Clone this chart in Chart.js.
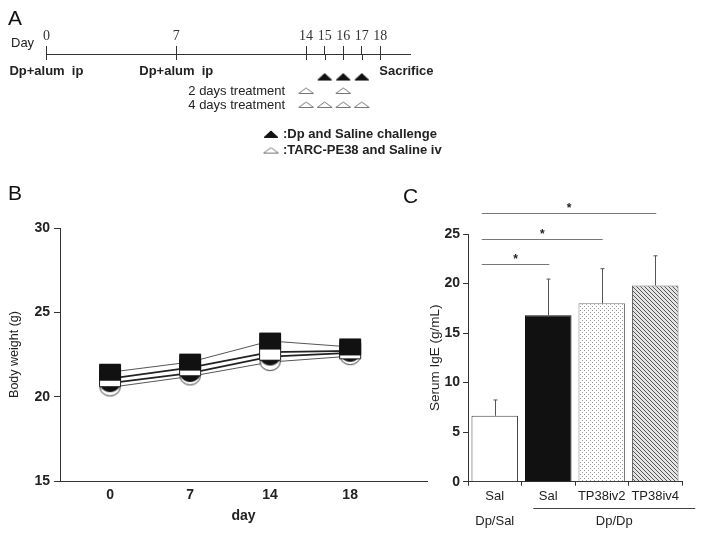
<!DOCTYPE html>
<html>
<head>
<meta charset="utf-8">
<script src="https://cdn.jsdelivr.net/npm/chart.js@4"></script>
<style>
  body { margin: 0; background: #fff; }
  #wrap { position: relative; width: 704px; height: 535px; overflow: hidden; background: #fff; }
  canvas { position: absolute; }
</style>
</head>
<body>
<div id="wrap">
  <canvas id="chartA" width="460" height="170" style="left:0;top:0"></canvas>
  <canvas id="chartB" width="440" height="365" style="left:0;top:170px"></canvas>
  <canvas id="chartC" width="324" height="365" style="left:380px;top:170px"></canvas>
</div>
<script>
//----- Panel A: timeline -----
const timelineDays = [0, 7, 14, 15, 16, 17, 18];
const challengeDays = [15, 16, 17];
const twoDayDays = [14, 16];
const fourDayDays = [14, 15, 16, 17];

//----- Panel B: body weight -----
const weightDays = ["0", "7", "14", "18"];
const wtFilledSquare = [21.45, 22.05, 23.3, 22.95];
const wtOpenSquare = [21.07, 21.72, 22.64, 22.72];
const wtFilledCircle = [20.8, 21.4, 22.38, 22.6];
const wtOpenCircle = [20.55, 21.2, 22.05, 22.4];
const weightTicks = [15, 20, 25, 30];

//----- Panel C: serum IgE -----
const igeGroups = ["Sal", "Sal", "TP38iv2", "TP38iv4"];
const igeMeans = [6.65, 16.8, 18.0, 19.8];
const igeErrors = [1.6, 3.65, 3.5, 3.0];
const igeTicks = [0, 5, 10, 15, 20, 25];
const sigPairs = [[0, 1], [0, 2], [0, 3]];
const sigLevels = [22, 24.45, 27.1];
const treatLabels = ["Dp/Sal", "Dp/Dp"];

Chart.defaults.font.family = '"Liberation Sans", Arial, sans-serif';
Chart.defaults.color = "#222";
Chart.defaults.animation = false;
Chart.defaults.plugins.legend.display = false;
Chart.defaults.plugins.tooltip.enabled = false;

// small canvas used as point style
function makeMarker(shape, fill, w, h, stroke) {
  const c = document.createElement("canvas");
  c.width = w + 2;
  c.height = h + 2;
  const g = c.getContext("2d");
  g.beginPath();
  if (shape === "rect") {
    g.rect(1.5, 1.5, w - 1, h - 1);
  } else if (shape === "ellipse") {
    g.ellipse((w + 2) / 2, (h + 2) / 2, w / 2 - 0.5, h / 2 - 0.5, 0, 0, Math.PI * 2);
  } else {
    g.moveTo(1, h + 0.5);
    g.lineTo(w + 1, h + 0.5);
    g.lineTo((w + 2) / 2, 1);
    g.closePath();
  }
  g.fillStyle = fill;
  g.fill();
  g.strokeStyle = stroke;
  g.lineWidth = 1;
  g.stroke();
  return c;
}

function dotPattern() {
  const c = document.createElement("canvas");
  c.width = 4;
  c.height = 4;
  const g = c.getContext("2d");
  g.fillStyle = "#fff";
  g.fillRect(0, 0, 4, 4);
  g.fillStyle = "#9a9a9a";
  g.fillRect(0, 0, 1, 1);
  g.fillRect(2, 2, 1, 1);
  return g.createPattern(c, "repeat");
}

function hatchPattern() {
  const c = document.createElement("canvas");
  c.width = 4;
  c.height = 4;
  const g = c.getContext("2d");
  g.fillStyle = "#e4e4e4";
  g.fillRect(0, 0, 4, 4);
  g.fillStyle = "#555";
  for (let i = 0; i < 4; i++) g.fillRect(i, i, 1, 1);
  return g.createPattern(c, "repeat");
}

function panelLetter(ctx, text, x, y) {
  ctx.font = '21px "Liberation Sans", Arial, sans-serif';
  ctx.fillStyle = "#111";
  ctx.textAlign = "left";
  ctx.textBaseline = "alphabetic";
  ctx.fillText(text, x, y);
}

//----- Chart A -----
const triFilled = makeMarker("tri", "#111", 14, 7, "#111");
const triOpen = makeMarker("tri", "#fff", 15, 6, "#777");

function rowPoints(days, row) {
  return days.map((d) => ({ x: d, y: row }));
}

const timelinePlugin = {
  id: "timeline",
  afterDraw(chart) {
    const { ctx } = chart;
    const { x, y } = chart.scales;
    ctx.save();
    panelLetter(ctx, "A", 8, 25);

    // lower half of the day ticks
    ctx.strokeStyle = "#333";
    ctx.lineWidth = 1;
    timelineDays.forEach((d) => {
      const px = Math.round(x.getPixelForValue(d)) + 0.5;
      ctx.beginPath();
      ctx.moveTo(px, chart.chartArea.top);
      ctx.lineTo(px, chart.chartArea.top + 6);
      ctx.stroke();
    });

    ctx.fillStyle = "#222";
    ctx.textBaseline = "middle";
    ctx.font = '13px "Liberation Sans", Arial, sans-serif';
    ctx.textAlign = "left";
    ctx.fillText("Day", 11, 43);

    ctx.textAlign = "right";
    ctx.fillText("2 days treatment", x.getPixelForValue(14) - 21, y.getPixelForValue(2));
    ctx.fillText("4 days treatment", x.getPixelForValue(14) - 21, y.getPixelForValue(3));

    ctx.font = 'bold 13px "Liberation Sans", Arial, sans-serif';
    ctx.textAlign = "center";
    ctx.fillText("Dp+alum  ip", x.getPixelForValue(0), y.getPixelForValue(0.58));
    ctx.fillText("Dp+alum  ip", x.getPixelForValue(7), y.getPixelForValue(0.58));
    ctx.textAlign = "left";
    ctx.fillText("Sacrifice", x.getPixelForValue(18) - 1, y.getPixelForValue(0.58));

    // legend
    const lx = 271;
    const ly1 = y.getPixelForValue(5.11);
    const ly2 = y.getPixelForValue(6.27);
    ctx.drawImage(triFilled, lx - triFilled.width / 2, ly1 - triFilled.height / 2);
    ctx.drawImage(triOpen, lx - triOpen.width / 2, ly2 - triOpen.height / 2);
    ctx.fillText(":Dp and Saline challenge", lx + 12, ly1);
    ctx.fillText(":TARC-PE38 and Saline iv", lx + 12, ly2);
    ctx.restore();
  },
};

new Chart(document.getElementById("chartA"), {
  type: "scatter",
  data: {
    datasets: [
      { data: rowPoints(challengeDays, 1), pointStyle: triFilled },
      { data: rowPoints(twoDayDays, 2), pointStyle: triOpen },
      { data: rowPoints(fourDayDays, 3), pointStyle: triOpen },
    ],
  },
  options: {
    responsive: false,
    layout: { padding: { left: 46.4, right: 50, top: 24, bottom: 0 } },
    scales: {
      x: {
        type: "linear",
        position: "top",
        min: 0,
        max: 19.6,
        afterBuildTicks: (s) => {
          s.ticks = timelineDays.map((d) => ({ value: d }));
        },
        afterFit: (s) => {
          s.height = 30;
        },
        grid: { drawOnChartArea: false, tickLength: 8, color: "#333" },
        border: { color: "#333" },
        ticks: {
          padding: 1,
          color: "#333",
          font: { family: '"Liberation Serif", "Times New Roman", serif', size: 14 },
        },
      },
      y: { type: "linear", display: false, reverse: true, min: -0.65, max: 7.3 },
    },
  },
  plugins: [timelinePlugin],
});

//----- Chart B -----
const sqFilled = makeMarker("rect", "#111", 22, 17, "#111");
const sqOpen = makeMarker("rect", "#fff", 22, 17, "#222");
const ciFilled = makeMarker("ellipse", "#111", 21, 18, "#111");
const ciOpen = makeMarker("ellipse", "#fff", 21, 18, "#333");

function weightSeries(values, marker, width, color) {
  return {
    data: values.map((v, i) => ({ x: i, y: v })),
    showLine: true,
    borderColor: color,
    borderWidth: width,
    pointStyle: marker,
    clip: false,
  };
}

new Chart(document.getElementById("chartB"), {
  type: "scatter",
  data: {
    datasets: [
      weightSeries(wtFilledSquare, sqFilled, 1, "#555"),
      weightSeries(wtOpenSquare, sqOpen, 1.8, "#222"),
      weightSeries(wtFilledCircle, ciFilled, 1.8, "#222"),
      weightSeries(wtOpenCircle, ciOpen, 1, "#555"),
    ],
  },
  options: {
    responsive: false,
    layout: { padding: { left: 0, right: 13, top: 58, bottom: 0 } },
    scales: {
      x: {
        type: "linear",
        min: -0.625,
        max: 3.96,
        afterBuildTicks: (s) => {
          s.ticks = weightDays.map((d, i) => ({ value: i }));
        },
        afterFit: (s) => {
          s.height = 54;
        },
        grid: { drawOnChartArea: false, drawTicks: false },
        border: { color: "#333" },
        ticks: { padding: 6, font: { weight: "bold", size: 14 }, callback: (v) => weightDays[v] },
        title: {
          display: true,
          text: "day",
          font: { weight: "bold", size: 14 },
          padding: { top: 0, bottom: 10 },
        },
      },
      y: {
        min: 15,
        max: 30,
        afterBuildTicks: (s) => {
          s.ticks = weightTicks.map((v) => ({ value: v }));
        },
        afterFit: (s) => {
          s.width = 60;
        },
        grid: { drawOnChartArea: false, tickLength: 6, color: "#333" },
        border: { color: "#333" },
        ticks: { padding: 4, font: { weight: "bold", size: 14 } },
        title: {
          display: true,
          text: "Body weight (g)",
          font: { size: 12.5 },
          padding: { top: 7, bottom: 0 },
        },
      },
    },
  },
  plugins: [
    {
      id: "letterB",
      afterDraw(chart) {
        chart.ctx.save();
        panelLetter(chart.ctx, "B", 8, 30);
        chart.ctx.restore();
      },
    },
  ],
});

//----- Chart C -----
const igePlugin = {
  id: "igeExtras",
  afterDatasetsDraw(chart) {
    const { ctx } = chart;
    const { y } = chart.scales;
    const bars = chart.getDatasetMeta(0).data;
    ctx.save();
    // error bars (upper only)
    ctx.strokeStyle = "#555";
    ctx.lineWidth = 1;
    bars.forEach((bar, i) => {
      const bx = Math.round(bar.x) + 0.5;
      const top = y.getPixelForValue(igeMeans[i] + igeErrors[i]);
      ctx.beginPath();
      ctx.moveTo(bx, bar.y);
      ctx.lineTo(bx, top);
      ctx.moveTo(bx - 2, top);
      ctx.lineTo(bx + 2, top);
      ctx.stroke();
    });
    ctx.restore();
  },
  afterDraw(chart) {
    const { ctx } = chart;
    const { x, y } = chart.scales;
    ctx.save();
    panelLetter(ctx, "C", 23, 33);

    // significance lines
    ctx.strokeStyle = "#777";
    ctx.lineWidth = 1;
    ctx.fillStyle = "#222";
    ctx.font = 'bold 12px "Liberation Sans", Arial, sans-serif';
    ctx.textAlign = "center";
    ctx.textBaseline = "middle";
    sigPairs.forEach(([a, b], k) => {
      const ly = Math.round(y.getPixelForValue(sigLevels[k])) + 0.5;
      const x1 = x.getPixelForValue(a) - 13;
      const x2 = x.getPixelForValue(b) + 1;
      ctx.beginPath();
      ctx.moveTo(x1, ly);
      ctx.lineTo(x2, ly);
      ctx.stroke();
      ctx.fillText("*", (x1 + x2) / 2, ly - 5);
    });

    // treatment group labels
    const rowY = chart.chartArea.bottom + 40;
    const lineY = Math.round(chart.chartArea.bottom + 26) + 0.5;
    const gx1 = x.getPixelForValue(1) - 15;
    const gx2 = x.getPixelForValue(3) + 40;
    ctx.strokeStyle = "#444";
    ctx.beginPath();
    ctx.moveTo(gx1, lineY);
    ctx.lineTo(gx2, lineY);
    ctx.stroke();
    ctx.font = '13px "Liberation Sans", Arial, sans-serif';
    ctx.fillText(treatLabels[0], x.getPixelForValue(0), rowY);
    ctx.fillText(treatLabels[1], (gx1 + gx2) / 2, rowY);
    ctx.restore();
  },
};

new Chart(document.getElementById("chartC"), {
  type: "bar",
  data: {
    labels: igeGroups,
    datasets: [
      {
        data: igeMeans,
        backgroundColor: ["#fff", "#111", dotPattern(), hatchPattern()],
        borderColor: ["#444", "#111", "#777", "#666"],
        borderWidth: 1,
        barPercentage: 0.87,
        categoryPercentage: 1,
      },
    ],
  },
  options: {
    responsive: false,
    layout: { padding: { left: 40, right: 22, top: 64, bottom: 0 } },
    scales: {
      x: {
        afterFit: (s) => {
          s.height = 53.3;
        },
        grid: { drawOnChartArea: false, tickLength: 4, color: "#333" },
        border: { color: "#333" },
        ticks: { padding: 3, font: { size: 13 }, maxRotation: 0, minRotation: 0, autoSkip: false },
      },
      y: {
        min: 0,
        max: 25,
        afterBuildTicks: (s) => {
          s.ticks = igeTicks.map((v) => ({ value: v }));
        },
        afterFit: (s) => {
          s.width = 48;
        },
        grid: { drawOnChartArea: false, tickLength: 5, color: "#333" },
        border: { color: "#333" },
        ticks: { padding: 3, font: { weight: "bold", size: 14 } },
        title: {
          display: true,
          text: "Serum IgE (g/mL)",
          font: { size: 13.5 },
          padding: { top: 7, bottom: 0 },
        },
      },
    },
  },
  plugins: [igePlugin],
});
</script>
</body>
</html>
